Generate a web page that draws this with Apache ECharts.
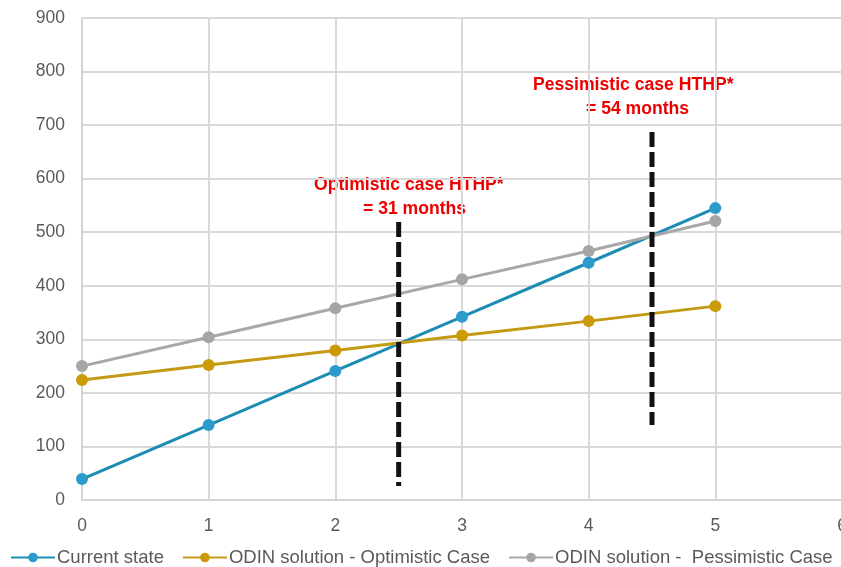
<!DOCTYPE html>
<html>
<head>
<meta charset="utf-8">
<script src="https://cdn.jsdelivr.net/npm/echarts@6/dist/echarts.min.js"></script>
<style>
  html, body { margin: 0; padding: 0; background: #fff; }
  #chart { width: 841px; height: 567px; }
</style>
</head>
<body>
<div id="chart"></div>
<script>
// Years after installation
const years = [0, 1, 2, 3, 4, 5];
// Cumulative cost per scenario
const currentState = [39, 140, 241, 342, 443, 545];
const optimisticCase = [224, 252, 279, 307, 334, 362];
const pessimisticCase = [250, 304, 358, 412, 465, 521];
// Payback markers: [x, yTop, yBottom]
const optimisticPayback = [2.5, 519, 26];
const pessimisticPayback = [4.5, 687, 140];
const seriesNames = ['Current state', 'ODIN solution - Optimistic Case', 'ODIN solution -  Pessimistic Case'];

const pair = (xs, ys) => xs.map((x, i) => [x, ys[i]]);

const chart = echarts.init(document.getElementById('chart'));
const font = 'Liberation Sans, sans-serif';

function lineSeries(name, data, lineColor, dotColor) {
  return {
    name, type: 'line', data: pair(years, data),
    symbol: 'circle', symbolSize: 12,
    lineStyle: { color: lineColor, width: 3 },
    itemStyle: { color: dotColor },
    z: 3
  };
}

// Dashed vertical marker, drawn from the top down
function paybackLine(p) {
  return {
    type: 'line', data: [[p[0], p[1]], [p[0], p[2]]],
    symbol: 'none', silent: true,
    lineStyle: { color: '#111', width: 5, type: [15, 5] },
    z: 4
  };
}

chart.setOption({
  animation: false,
  grid: { left: 82, right: -1, top: 18, bottom: 67, outerBoundsMode: 'none' },
  xAxis: {
    type: 'value', min: 0, max: 6, interval: 1,
    axisLine: { lineStyle: { color: '#d4d4d4', width: 2 } },
    axisTick: { show: false },
    splitLine: { lineStyle: { color: '#d9d9d9', width: 2 } },
    axisLabel: { color: '#5a5a5a', fontSize: 17.5, fontFamily: font, margin: 17 }
  },
  yAxis: {
    type: 'value', min: 0, max: 900, interval: 100,
    axisLine: { show: true, lineStyle: { color: '#d4d4d4', width: 2 } },
    axisTick: { show: false },
    splitLine: { lineStyle: { color: '#d9d9d9', width: 2 } },
    axisLabel: { color: '#5a5a5a', fontSize: 17.5, fontFamily: font, margin: 17 }
  },
  legend: {
    bottom: 0, left: 10, width: 900, padding: 0, itemGap: 18, itemWidth: 44, itemHeight: 12,
    textStyle: { color: '#5a5a5a', fontSize: 18.5, fontFamily: font, padding: [0, 0, 0, -3] },
    data: seriesNames
  },
  series: [
    lineSeries(seriesNames[0], currentState, '#1b8db3', '#2b9bcb'),
    lineSeries(seriesNames[1], optimisticCase, '#c39a12', '#cc9a06'),
    lineSeries(seriesNames[2], pessimisticCase, '#a8a8a8', '#a5a5a5'),
    paybackLine(optimisticPayback),
    paybackLine(pessimisticPayback)
  ],
  graphic: [
    { type: 'text', left: 314, top: 176, style: { text: 'Optimistic case HTHP*', fill: '#ee0000', font: 'bold 17.6px ' + font } },
    { type: 'text', left: 363, top: 200, style: { text: '= 31 months', fill: '#ee0000', font: 'bold 17.6px ' + font } },
    { type: 'text', left: 533, top: 76, style: { text: 'Pessimistic case HTHP*', fill: '#ee0000', font: 'bold 17.6px ' + font } },
    { type: 'text', left: 586, top: 100, style: { text: '= 54 months', fill: '#ee0000', font: 'bold 17.6px ' + font } }
  ]
});
</script>
</body>
</html>
